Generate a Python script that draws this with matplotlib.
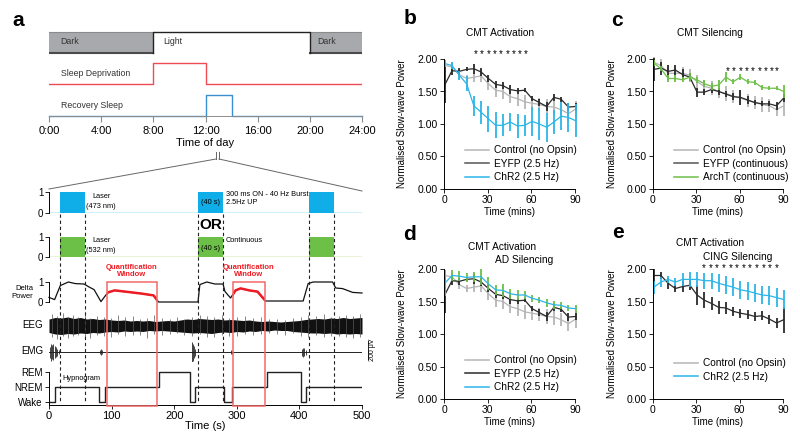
import numpy as np
import matplotlib
matplotlib.use("Agg")
import matplotlib.pyplot as plt
from matplotlib.lines import Line2D
from matplotlib.patches import Rectangle

W, H = 800, 444
plt.rcParams["font.family"] = ["Liberation Sans", "DejaVu Sans"]
plt.rcParams["font.size"] = 7
plt.rcParams["axes.linewidth"] = 0.7

# ---- panel a: day schedule (hours) ----
DAY_TICKS = [0, 4, 8, 12, 16, 20, 24]
DAY_LABELS = ["0:00", "4:00", "8:00", "12:00", "16:00", "20:00", "24:00"]
DARK_PERIODS = [(0, 8), (20, 24)]
LIGHT_ON, LIGHT_OFF = 8, 20
SD_ON, SD_OFF = 8, 12
RS_ON, RS_OFF = 12, 14

# ---- panel a: example recording (seconds) ----
PULSE_ON = [18, 238, 415]
PULSE_LEN = 40
QUANT_WINDOWS = [(92.5, 172), (294, 345)]
DELTA_T = [0, 9, 18, 31, 42, 56, 64, 72, 83, 94, 105, 127, 148, 167, 175, 238,
           241, 252, 265, 278, 281, 290, 298, 306, 320, 333, 346, 406, 414, 422,
           453, 458, 469, 485, 500]
DELTA_V = [0.23, 0.12, 0.82, 1.0, 0.92, 0.9, 0.75, 0.62, 0.02, 0.48, 0.58, 0.5,
           0.42, 0.33, 0.0, 0.0, 0.87, 1.0, 0.9, 0.9, 0.53, 0.2, 0.58, 0.68,
           0.58, 0.52, 0.05, 0.05, 0.92, 1.0, 1.0, 0.7, 0.67, 0.48, 0.45]
EEG_T = np.arange(0, 501, 10)
EEG_HI = [70, 85, 80, 90, 75, 85, 70, 75, 65, 70, 60, 55, 60, 50, 55, 50, 55,
          45, 50, 55, 50, 60, 70, 65, 75, 70, 65, 70, 60, 65, 60, 55, 60, 50,
          45, 50, 45, 40, 45, 50, 55, 65, 70, 75, 70, 80, 75, 85, 75, 80, 85]
EEG_LO = [-65, -80, -85, -75, -80, -70, -75, -65, -70, -60, -55, -60, -50, -55,
          -50, -55, -45, -50, -45, -50, -55, -60, -65, -70, -65, -70, -75, -65,
          -60, -65, -55, -60, -50, -55, -45, -50, -40, -45, -45, -55, -60, -65,
          -70, -70, -75, -70, -80, -75, -80, -75, -80]
EEG_SPK_T = [4, 13, 22, 31, 39, 47, 58, 66, 77, 88, 99, 110, 121, 134, 146,
             157, 168, 181, 193, 204, 216, 229, 241, 252, 263, 276, 288, 301,
             313, 326, 338, 351, 364, 377, 390, 402, 414, 427, 439, 451, 463,
             474, 486, 497]
EEG_SPK_UP = [120, 100, 130, 95, 110, 90, 125, 85, 105, 95, 80, 115, 90, 100,
              75, 85, 110, 80, 70, 95, 75, 90, 115, 100, 90, 110, 85, 95, 105,
              80, 90, 70, 75, 65, 80, 95, 110, 100, 120, 95, 105, 115, 100, 120]
EEG_SPK_DN = [-110, -130, -95, -120, -100, -90, -105, -115, -85, -100, -110,
              -80, -95, -85, -90, -120, -75, -85, -80, -70, -85, -95, -80,
              -105, -110, -85, -95, -100, -80, -90, -75, -70, -80, -85, -70,
              -95, -110, -90, -105, -100, -95, -110, -120, -105]
EMG_T = [1, 3, 5, 7, 9, 11, 13, 16, 81, 83, 85, 229, 230, 232, 234, 291, 293,
         404, 406, 408, 410]
EMG_AMP = [55, 85, 70, 80, 60, 50, 35, 20, 20, 30, 20, 100, 85, 60, 35, 20, 15,
           35, 45, 40, 25]
HYP_T = [0, 10, 80, 89, 175, 225, 233, 280, 293, 348, 402, 410, 500]
HYP_S = [0, 1, 0, 1, 2, 0, 1, 0, 1, 2, 0, 1, 1]
HYP_LABELS = ["Wake", "NREM", "REM"]

# ---- panels b-e: normalised slow-wave power ----
TIME = [0.5, 5.5, 10.5, 15.5, 20.5, 25.5, 30.5, 35.5, 40.5, 45.5, 50.5, 55.5,
        60.5, 65.5, 70.5, 75.5, 80.5, 85.5, 90.5]
CTRL_B = [1.90, 1.88, 1.76, 1.70, 1.72, 1.74, 1.62, 1.52, 1.50, 1.42, 1.39,
          1.34, 1.32, 1.30, 1.27, 1.26, 1.22, 1.16, 1.23]
CTRL_B_ERR = [0.08, 0.06, 0.07, 0.06, 0.08, 0.09, 0.10, 0.10, 0.11, 0.10, 0.11,
              0.11, 0.10, 0.10, 0.11, 0.12, 0.10, 0.11, 0.13]
EYFP_B = [1.60, 1.82, 1.81, 1.84, 1.85, 1.80, 1.70, 1.61, 1.59, 1.53, 1.51,
          1.52, 1.39, 1.33, 1.27, 1.41, 1.38, 1.26, 1.27]
EYFP_B_ERR = [0.27, 0.06, 0.05, 0.03, 0.08, 0.06, 0.06, 0.05, 0.05, 0.07, 0.05,
              0.03, 0.04, 0.06, 0.07, 0.05, 0.04, 0.06, 0.06]
CHR2_B = [1.93, 1.90, 1.75, 1.62, 1.28, 1.18, 1.08, 0.98, 0.98, 1.03, 0.97,
          0.98, 1.04, 1.00, 0.95, 1.03, 1.12, 1.10, 1.05]
CHR2_B_ERR = [0.06, 0.05, 0.07, 0.12, 0.15, 0.18, 0.20, 0.20, 0.17, 0.14, 0.18,
              0.16, 0.22, 0.25, 0.22, 0.18, 0.22, 0.22, 0.25]

CTRL_C = [1.95, 1.90, 1.78, 1.78, 1.78, 1.75, 1.65, 1.58, 1.55, 1.50, 1.47,
          1.43, 1.40, 1.36, 1.33, 1.30, 1.28, 1.22, 1.28]
CTRL_C_ERR = [0.08, 0.10, 0.10, 0.10, 0.09, 0.10, 0.10, 0.10, 0.11, 0.10, 0.11,
              0.10, 0.11, 0.10, 0.10, 0.11, 0.10, 0.10, 0.15]
EYFP_C = [1.84, 1.86, 1.81, 1.83, 1.76, 1.72, 1.49, 1.49, 1.53, 1.50, 1.46,
          1.42, 1.41, 1.37, 1.33, 1.31, 1.31, 1.28, 1.40]
EYFP_C_ERR = [0.18, 0.10, 0.10, 0.08, 0.08, 0.06, 0.07, 0.05, 0.05, 0.05, 0.05,
              0.05, 0.12, 0.06, 0.04, 0.04, 0.04, 0.06, 0.06]
ARCHT_C = [1.94, 1.85, 1.70, 1.70, 1.68, 1.72, 1.68, 1.62, 1.58, 1.60, 1.72,
           1.65, 1.72, 1.65, 1.64, 1.56, 1.55, 1.55, 1.50]
ARCHT_C_ERR = [0.05, 0.04, 0.05, 0.05, 0.04, 0.06, 0.05, 0.05, 0.05, 0.08, 0.08,
               0.04, 0.05, 0.04, 0.04, 0.04, 0.03, 0.03, 0.10]

CHR2_D = [1.78, 1.90, 1.89, 1.87, 1.88, 1.88, 1.77, 1.68, 1.67, 1.62, 1.60,
          1.60, 1.55, 1.52, 1.48, 1.45, 1.44, 1.40, 1.39]
CHR2_D_ERR = [0.20, 0.08, 0.08, 0.07, 0.08, 0.12, 0.10, 0.08, 0.10, 0.08, 0.07,
              0.06, 0.05, 0.05, 0.06, 0.06, 0.06, 0.05, 0.06]

CTRL_E = [1.90, 1.90, 1.78, 1.70, 1.73, 1.75, 1.60, 1.52, 1.47, 1.41, 1.40,
          1.35, 1.32, 1.30, 1.27, 1.28, 1.23, 1.17, 1.22]
CTRL_E_ERR = [0.10, 0.06, 0.08, 0.06, 0.08, 0.08, 0.15, 0.12, 0.10, 0.10, 0.09,
              0.07, 0.07, 0.07, 0.07, 0.07, 0.07, 0.07, 0.20]
CHR2_E = [1.72, 1.80, 1.84, 1.80, 1.84, 1.84, 1.84, 1.82, 1.82, 1.78, 1.75,
          1.72, 1.68, 1.66, 1.63, 1.60, 1.59, 1.56, 1.53]
CHR2_E_ERR = [0.10, 0.08, 0.06, 0.06, 0.10, 0.12, 0.12, 0.12, 0.12, 0.14, 0.14,
              0.14, 0.14, 0.14, 0.14, 0.14, 0.15, 0.15, 0.15]

STARS_B = [22, 26, 31, 35, 39, 44, 48, 52, 56]
STARS_C = [52, 56, 61, 65, 69, 74, 78, 82, 86]
STARS_E = [35, 40, 44, 49, 54, 58, 63, 67, 72, 77, 81, 86]

Y_TICKS = [0, 0.5, 1.0, 1.5, 2.0]
Y_LABELS = ["0.00", "0.50", "1.00", "1.50", "2.00"]
Y_LABELS_TYPO = ["0.00", "0.50", "1.50", "1.50", "2.00"]

CYAN = "#2cb5e9"
PULSE_BLUE = "#10aee8"
GREEN = "#6cbf47"
GRAY = "#b5b5b5"
DARK = "#2a2a2a"
RED = "#ed1c24"
BOXRED = "#f26a6a"


def fbox(x0, y0, x1, y1):
    return [x0 / W, 1 - y1 / H, (x1 - x0) / W, (y1 - y0) / H]


def ftxt(x, y, s, **kw):
    fig.text(x / W, 1 - y / H, s, **kw)


def fline(xs, ys, **kw):
    fig.add_artist(Line2D([x / W for x in xs], [1 - y / H for y in ys],
                          transform=fig.transFigure, **kw))


def trace_axis(ax):
    ax.set_xlim(0, 500)
    ax.patch.set_visible(False)
    for s in ["top", "right", "bottom"]:
        ax.spines[s].set_visible(False)
    ax.set_xticks([])
    ax.set_ylim(0, 1)
    ax.set_yticks([0, 1])
    ax.tick_params(axis="y", direction="out", length=3, width=0.6, pad=1,
                   labelsize=7)


fig = plt.figure(figsize=(W / 100, H / 100), dpi=100)

# ---------------- panel a, schedule ----------------
ax_day = fig.add_axes(fbox(49, 28, 362, 116))
ax_day.set_xlim(0, 24)
ax_day.set_ylim(0, 88)
ax_day.patch.set_visible(False)
for s in ["top", "right", "left"]:
    ax_day.spines[s].set_visible(False)
ax_day.spines["bottom"].set_color("#8c8c8c")
ax_day.set_yticks([])
ax_day.set_xticks(DAY_TICKS)
ax_day.set_xticklabels(DAY_LABELS, fontsize=8)
ax_day.tick_params(axis="x", direction="out", length=4, color="#8c8c8c", pad=3)
ax_day.set_xlabel("Time of day", fontsize=8, labelpad=2)
for a, b in DARK_PERIODS:
    ax_day.add_patch(Rectangle((a, 63), b - a, 21, fc="#a7a9ac", ec="none"))
    ax_day.plot([a, b], [63, 63], color="#4a4a4a", lw=1.5)
    ax_day.plot([a, b], [84, 84], color="#8a8a8a", lw=0.8)
ax_day.plot([LIGHT_ON, LIGHT_ON, LIGHT_OFF, LIGHT_OFF], [63, 84, 84, 63],
            color="#222222", lw=1.0)
ax_day.plot([0, SD_ON, SD_ON, SD_OFF, SD_OFF, 24], [32, 32, 53, 53, 32, 32],
            color="#ef4b55", lw=1.0)
ax_day.plot([0, RS_ON, RS_ON, RS_OFF, RS_OFF, 24], [0, 0, 21, 21, 0, 0],
            color="#3a8fd0", lw=1.0, clip_on=False)
ax_day.text(0.9, 74, "Dark", fontsize=6.3, va="center", color="#333333")
ax_day.text(LIGHT_ON + 0.75, 74, "Light", fontsize=6.3, va="center", color="#333333")
ax_day.text(LIGHT_OFF + 0.55, 74, "Dark", fontsize=6.3, va="center", color="#333333")
ax_day.text(0.9, 42, "Sleep Deprivation", fontsize=6.3, va="center", color="#333333")
ax_day.text(0.9, 11, "Recovery Sleep", fontsize=6.3, va="center", color="#333333")

# zoom bracket
fline([216, 216], [152, 159], color="#666666", lw=0.7)
fline([219, 219], [152, 159], color="#666666", lw=0.7)
fline([216, 49], [159, 189], color="#666666", lw=0.7)
fline([219, 362], [159, 191], color="#666666", lw=0.7)

# ---------------- panel a, example traces ----------------
ax_blue = fig.add_axes(fbox(49, 192, 362, 213))
trace_axis(ax_blue)
ax_blue.axhline(0, color=PULSE_BLUE, lw=1.0)
ax_blue.bar(PULSE_ON, 1, width=PULSE_LEN, align="edge", color=PULSE_BLUE)

ax_green = fig.add_axes(fbox(49, 237, 362, 257))
trace_axis(ax_green)
ax_green.axhline(0, color="#8cc63f", lw=1.0)
ax_green.bar(PULSE_ON, 1, width=PULSE_LEN, align="edge", color=GREEN)

ax_delta = fig.add_axes(fbox(49, 282, 362, 302))
trace_axis(ax_delta)
ax_delta.plot(DELTA_T, DELTA_V, color="#111111", lw=0.9, clip_on=False)
for w0, w1 in QUANT_WINDOWS:
    ln, = ax_delta.plot(DELTA_T, DELTA_V, color=RED, lw=1.8)
    ln.set_clip_path(Rectangle((w0, -1), w1 - w0, 3, transform=ax_delta.transData))

ax_eeg = fig.add_axes(fbox(49, 308, 362, 344))
ax_eeg.set_xlim(0, 500)
ax_eeg.set_ylim(-180, 180)
ax_eeg.axis("off")
ax_eeg.fill_between(EEG_T, EEG_LO, EEG_HI, color="#111111", lw=0)
ax_eeg.vlines(EEG_SPK_T, EEG_SPK_DN, EEG_SPK_UP, color="#555555", lw=0.5)

ax_emg = fig.add_axes(fbox(49, 342, 362, 362))
ax_emg.set_xlim(0, 500)
ax_emg.set_ylim(-100, 100)
ax_emg.axis("off")
ax_emg.axhline(0, color="#222222", lw=0.7)
ax_emg.vlines(EMG_T, [-a for a in EMG_AMP], EMG_AMP, color="#222222", lw=0.6)

ax_hyp = fig.add_axes(fbox(49, 368, 362, 405))
ax_hyp.set_xlim(0, 500)
ax_hyp.set_ylim(-0.2, 2.27)
ax_hyp.patch.set_visible(False)
for s in ["top", "right"]:
    ax_hyp.spines[s].set_visible(False)
ax_hyp.spines["left"].set_bounds(-0.2, 2)
ax_hyp.step(HYP_T, HYP_S, where="post", color="#222222", lw=1.0)
ax_hyp.set_yticks([0, 1, 2])
ax_hyp.set_yticklabels(HYP_LABELS)
ax_hyp.set_xticks([0, 100, 200, 300, 400, 500])
ax_hyp.tick_params(direction="out", length=3, width=0.6, pad=1.5)
ax_hyp.tick_params(axis="x", labelsize=8)
ax_hyp.set_xlabel("Time (s)", fontsize=8, labelpad=0)

# overlay: dashed pulse edges, quantification windows, annotations
ax_ov = fig.add_axes(fbox(49, 183, 362, 406))
ax_ov.set_xlim(0, 500)
ax_ov.set_ylim(406, 183)
ax_ov.axis("off")
edges = [p for on in PULSE_ON for p in (on, on + PULSE_LEN)]
ax_ov.vlines(edges, 214, 403, colors="#222222", linestyles=(0, (3, 2.5)), lw=0.8)
for w0, w1 in QUANT_WINDOWS:
    ax_ov.add_patch(Rectangle((w0, 282), w1 - w0, 124, fill=False, ec=BOXRED, lw=1.1,
                              clip_on=False))
    ax_ov.text((w0 + w1) / 2, 271, "Quantification\nWindow", color=RED, fontsize=5.5,
               fontweight="bold", ha="center", va="center", linespacing=1.15)
ax_ov.text(68.7, 197, "Laser", fontsize=5.3, va="center")
ax_ov.text(59, 206, "(473 nm)", fontsize=5.3, va="center")
ax_ov.text(68.7, 241, "Laser", fontsize=5.3, va="center")
ax_ov.text(59, 250, "(532 nm)", fontsize=5.3, va="center")
ax_ov.text(258, 202, "(40 s)", fontsize=5.3, ha="center", va="center")
ax_ov.text(258, 248, "(40 s)", fontsize=5.3, ha="center", va="center")
ax_ov.text(282, 195, "300 ms ON - 40 Hz Burst", fontsize=5.3, va="center")
ax_ov.text(282, 203, "2.5Hz UP", fontsize=5.3, va="center")
ax_ov.text(282, 240, "Continuous", fontsize=5.3, va="center")
ax_ov.text(258, 225, "OR", fontsize=11, fontweight="bold", ha="center", va="center")
ax_ov.text(21, 378, "Hypnogram", fontsize=5.3, va="center")

ftxt(33, 292, "Delta\nPower", fontsize=5.5, ha="right", va="center", linespacing=1.2)
ftxt(43, 325, "EEG", fontsize=7, ha="right", va="center")
ftxt(43, 351, "EMG", fontsize=7, ha="right", va="center")
fline([368, 368], [341, 359], color="#222222", lw=0.7)
ftxt(373, 350, "200 μV", fontsize=5, rotation=90, ha="center", va="center")


# ---------------- panels b-e ----------------
def power_panel(box, series, typo, title_lines, stars, star_y, legend_pos):
    ax = fig.add_axes(fbox(*box))
    for y, err, col, ecol, _, _ in series:
        ax.vlines(TIME, np.array(y) - np.array(err), np.array(y) + np.array(err),
                  color=ecol, lw=1.3, clip_on=False)
        ax.plot(TIME, y, color=col, lw=0.9, clip_on=False)
    ax.set_xlim(0, 90)
    ax.set_ylim(0, 2)
    ax.patch.set_visible(False)
    for s in ["top", "right"]:
        ax.spines[s].set_visible(False)
    ax.set_xticks([0, 30, 60, 90])
    ax.set_yticks(Y_TICKS)
    ax.set_yticklabels(Y_LABELS_TYPO if typo else Y_LABELS)
    ax.tick_params(direction="out", length=3, width=0.6, pad=1.5, labelsize=7.5)
    ax.set_xlabel("Time (mins)", fontsize=7, labelpad=1)
    ax.set_ylabel("Normalised Slow-wave Power", fontsize=7)
    ax.yaxis.set_label_coords(-0.28, 0.5)
    for x in stars:
        ax.text(x, star_y, "*", fontsize=7, ha="center", va="center", clip_on=False)
    for tx, ty, s in title_lines:
        ftxt(tx, ty, s, fontsize=7.3, ha="center", va="center")
    handles = [Line2D([], [], color=lc, lw=1.1) for *_, lc, _ in series]
    labels = [lab for *_, lab in series]
    ax.legend(handles, labels, loc="lower left", bbox_to_anchor=legend_pos,
              frameon=False, fontsize=7.3, handlelength=2.4, handletextpad=0.5,
              labelspacing=0.35, borderaxespad=0)
    return ax


power_panel((444, 59, 575, 189),
            [(CTRL_B, CTRL_B_ERR, GRAY, GRAY, GRAY, "Control (no Opsin)"),
             (EYFP_B, EYFP_B_ERR, DARK, DARK, "#555555", "EYFP (2.5 Hz)"),
             (CHR2_B, CHR2_B_ERR, CYAN, CYAN, CYAN, "ChR2 (2.5 Hz)")],
            False, [(500, 33, "CMT Activation")], STARS_B, 2.07, (0.13, 0.02))
power_panel((653, 59, 783, 189),
            [(CTRL_C, CTRL_C_ERR, GRAY, GRAY, GRAY, "Control (no Opsin)"),
             (EYFP_C, EYFP_C_ERR, DARK, DARK, "#555555", "EYFP (continuous)"),
             (ARCHT_C, ARCHT_C_ERR, GREEN, GREEN, GREEN, "ArchT (continuous)")],
            True, [(710, 33, "CMT Silencing")], STARS_C, 1.82, (0.13, 0.02))
power_panel((444, 269, 575, 399),
            [(CTRL_B, CTRL_B_ERR, GRAY, GRAY, GRAY, "Control (no Opsin)"),
             (EYFP_B, EYFP_B_ERR, DARK, DARK, DARK, "EYFP (2.5 Hz)"),
             (CHR2_D, CHR2_D_ERR, CYAN, GREEN, CYAN, "ChR2 (2.5 Hz)")],
            False, [(502, 247, "CMT Activation"), (524, 260, "AD Silencing")],
            [], 0, (0.13, 0.02))
power_panel((653, 269, 783, 399),
            [(CTRL_E, CTRL_E_ERR, DARK, DARK, GRAY, "Control (no Opsin)"),
             (CHR2_E, CHR2_E_ERR, CYAN, CYAN, CYAN, "ChR2 (2.5 Hz)")],
            True, [(710, 243, "CMT Activation"), (738, 257, "CING Silencing")],
            STARS_E, 2.01, (0.13, 0.1))

for x, y, s in [(18, 21, "a"), (410, 18, "b"), (617, 21, "c"), (410, 234, "d"),
                (618, 232, "e")]:
    ftxt(x, y, s, fontsize=15, fontweight="bold", ha="center", va="center")

fig.savefig("out.png", dpi=100)
